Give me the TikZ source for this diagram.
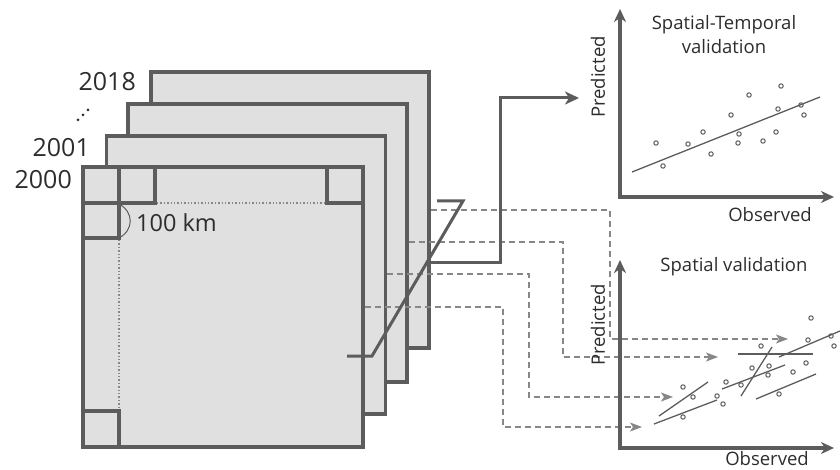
\documentclass[tikz,border=0pt]{standalone}
\usepackage{fontspec}
\setmainfont{Open Sans}
\usetikzlibrary{arrows.meta}
\definecolor{lg}{RGB}{92,92,92}
\definecolor{fg}{RGB}{224,224,224}
\definecolor{dg}{RGB}{135,135,135}
\definecolor{tg}{RGB}{45,45,45}
\begin{document}
\begin{tikzpicture}[x=1pt,y=-1pt,
  sq/.style={draw=lg,fill=fg,line width=3.3pt,inner sep=0pt,minimum width=279pt,minimum height=278pt},
  cell/.style={draw=lg,line width=3.3pt},
  dotl/.style={draw=dg,line width=1.4pt,dash pattern=on 1.4pt off 2pt},
  conn/.style={draw=dg,line width=1.3pt,dash pattern=on 6pt off 4pt,-{Stealth[length=12pt,width=9pt,inset=3pt]}},
  zline/.style={draw=lg,line width=3pt},
  axis/.style={draw=lg,line width=3.2pt,{Stealth[length=13pt,width=12pt,inset=4pt]}-{Stealth[length=13pt,width=12pt,inset=4pt]}},
  reg/.style={draw=lg,line width=1.3pt},
  pt/.style={draw=lg,line width=1pt},
  year/.style={text=tg,font=\fontsize{25}{30}\selectfont,inner sep=0pt,anchor=east},
  lab/.style={text=tg,font=\fontsize{18.5}{24}\selectfont,inner sep=0pt,align=center}
]
\useasboundingbox (0,0) rectangle (840,470);
% stacked rasters, back to front
\node[sq,minimum width=278pt,minimum height=276pt] (y2018) at (290,210) {};
\node[sq] (y2009) at (267.5,243) {};
\node[sq] (y2001) at (246,275) {};
\node[sq,minimum width=280pt,minimum height=280pt] (y2000) at (223,307) {};
% corner cells
\draw[cell] (83,167) rectangle (119,203);
\draw[cell] (119,167) rectangle (155,203);
\draw[cell] (83,203) rectangle (119,238);
\draw[cell] (327,167) rectangle (363,203);
\draw[cell] (83,411) rectangle (119,447);
\draw[dotl] (157,203) -- (325,203);
\draw[dotl] (119,240) -- (119,409);
\draw[lg,line width=1pt] (119,204) .. controls (134,212) and (134,230) .. (119,238);
\node[text=tg,font=\fontsize{23.5}{28}\selectfont,inner sep=0pt,anchor=west] (km) at (136,223) {100 km};
% year labels
\node[year] (t2018) at (136,82) {2018};
\node[year] (t2001) at (90,148) {2001};
\node[year] (t2000) at (72,180) {2000};
\fill[tg] (78,120) circle[radius=1.5pt] (83,115) circle[radius=1.5pt] (88,110) circle[radius=1.5pt];
% dashed connectors to spatial validation
\coordinate (e1) at (788,339);
\coordinate (e2) at (718,357);
\coordinate (e3) at (673,397);
\coordinate (e4) at (642,427);
\draw[conn] (y2018.east |- 0,210) -- (610,210) -- (610,339) -- (e1);
\draw[conn] (y2009.east |- 0,242) -- (563,242) -- (563,357) -- (e2);
\draw[conn] (y2001.east |- 0,274) -- (529,274) -- (529,397) -- (e3);
\draw[conn] (y2000.east |- 0,307) -- (503,307) -- (503,427) -- (e4);
% Z line
\draw[zline] (347,356) -- (372,356) -- (463,201) -- (437,201);
% arrow to spatial-temporal validation
\coordinate (stTip) at (579,98);
\draw[zline,-{Stealth[length=14pt,width=13pt,inset=4pt]}] (y2018.east |- 0,263) -- (500,263) -- (500,98) -- (stTip);
% top chart
\coordinate (o1) at (620,197);
\draw[axis] (620,9) -- (o1) -- (834,197);
\node[lab] (tt1) at (724,35) {Spatial-Temporal\\validation};
\node[lab,rotate=90] (py1) at (598,77) {Predicted};
\node[lab] (ox1) at (770,215) {Observed};
\draw[reg] (632,172) -- (820,97);
\foreach \p in {(656,143),(663,166),(688,144),(703,132),(711,154),(731,115),(749,95),(739,134),(738,143),(763,141),(776,132),(778,109),(781,86),(801,105),(804,115)}
  \draw[pt] \p circle[radius=2.2pt];
% bottom chart
\coordinate (o2) at (620,448);
\draw[axis] (620,260) -- (o2) -- (834,448);
\node[lab] (tt2) at (734,267) {Spatial validation};
\node[lab,rotate=90] (py2) at (598,325) {Predicted};
\node[lab] (ox2) at (767,459) {Observed};
\draw[reg] (659,416) -- (708,382);
\draw[reg] (654,424) -- (717,400);
\draw[reg] (722,389) -- (785,365);
\draw[reg] (741,396) -- (772,347);
\draw[reg] (738,354) -- (813,354);
\draw[reg] (779,357) -- (840,331);
\draw[reg] (756,399) -- (816,374);
\foreach \p in {(683,387),(693,397),(683,417),(717,396),(723,404),(726,382),(741,385),(752,368),(761,346),(769,366),(768,375),(779,394),(793,372),(806,363),(808,340),(811,318),(831,336),(834,346)}
  \draw[pt] \p circle[radius=2.2pt];
\end{tikzpicture}
\end{document}
